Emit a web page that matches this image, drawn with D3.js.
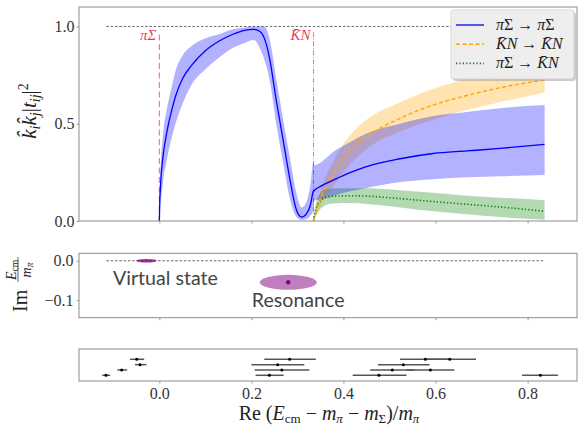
<!DOCTYPE html>
<html>
<head>
<meta charset="utf-8">
<script src="https://cdn.jsdelivr.net/npm/d3@7"></script>
<style>
  body { margin: 0; background: #fff; }
  svg { font-family: "Liberation Serif", "DejaVu Serif", serif; }
</style>
</head>
<body>
<div id="chart"></div>
<script>
// ---- data -------------------------------------------------------------
const thresholdX = [0, 0.335];
const thresholdName = ["πΣ", "K̄N"];
const xTicks = [0, 0.2, 0.4, 0.6, 0.8];
const topTicks = [0, 0.5, 1];
const midTicks = [0, -0.1];
const unitLine = [-0.115, 0.837];   // extent of the dashed |t|=1 / Im=0 line

// pi Sigma -> pi Sigma
const ppX  = [0, 0.001, 0.002, 0.004, 0.007, 0.01, 0.015, 0.02, 0.028, 0.035, 0.05, 0.07, 0.1, 0.13, 0.16, 0.185, 0.205, 0.218, 0.228, 0.24, 0.254, 0.269, 0.284, 0.298, 0.309, 0.32, 0.329, 0.334,
              0.337, 0.35, 0.378, 0.41, 0.45, 0.523, 0.595, 0.668, 0.74, 0.837];
const ppY  = [0, 0.11, 0.16, 0.24, 0.31, 0.37, 0.44, 0.5, 0.58, 0.64, 0.73, 0.8, 0.875, 0.925, 0.96, 0.98, 0.985, 0.975, 0.94, 0.83, 0.62, 0.416, 0.21, 0.055, 0.02, 0.038, 0.09, 0.15,
              0.158, 0.178, 0.21, 0.245, 0.28, 0.32, 0.347, 0.36, 0.373, 0.394];
const ppLo = [0, 0.05, 0.08, 0.12, 0.18, 0.24, 0.3, 0.36, 0.44, 0.5, 0.6, 0.7, 0.78, 0.84, 0.89, 0.915, 0.93, 0.89, 0.83, 0.72, 0.5, 0.3, 0.11, 0.02, 0.005, 0.01, 0.03, 0.05,
              0.105, 0.11, 0.13, 0.15, 0.17, 0.2, 0.215, 0.225, 0.23, 0.236];
const ppHi = [0, 0.17, 0.24, 0.34, 0.42, 0.49, 0.56, 0.62, 0.7, 0.77, 0.85, 0.9, 0.94, 0.96, 0.985, 0.995, 1.0, 1.0, 1.0, 0.93, 0.73, 0.52, 0.32, 0.14, 0.07, 0.1, 0.2, 0.3,
              0.287, 0.3, 0.356, 0.4, 0.45, 0.5, 0.54, 0.56, 0.58, 0.596];

// Kbar N -> Kbar N  and  pi Sigma -> Kbar N
const knX  = [0.335, 0.34, 0.349, 0.36, 0.378, 0.414, 0.45, 0.523, 0.595, 0.668, 0.74, 0.837];
const kkY  = [0, 0.04, 0.107, 0.17, 0.244, 0.364, 0.433, 0.528, 0.596, 0.645, 0.685, 0.725];
const kkLo = [0, 0.02, 0.07, 0.12, 0.18, 0.29, 0.37, 0.46, 0.52, 0.57, 0.61, 0.66];
const kkHi = [0, 0.06, 0.14, 0.22, 0.31, 0.44, 0.52, 0.61, 0.68, 0.73, 0.77, 0.8];
const pkY  = [0, 0.06, 0.1, 0.12, 0.127, 0.13, 0.128, 0.115, 0.1, 0.086, 0.072, 0.05];
const pkLo = [0, 0.03, 0.06, 0.08, 0.09, 0.092, 0.088, 0.07, 0.05, 0.035, 0.02, 0.007];
const pkHi = [0, 0.09, 0.14, 0.16, 0.167, 0.168, 0.168, 0.158, 0.145, 0.13, 0.12, 0.107];

// poles in the complex plane
const stateName  = ["Virtual state", "Resonance"];
const stateRe    = [-0.028, 0.28];
const stateIm    = [0, -0.0549];
const stateReErr = [0.022, 0.062];
const stateImErr = [0.0045, 0.019];
const labelRe    = [-0.1007, 0.2009];
const labelIm    = [-0.0606, -0.1165];

// pole positions from the individual fits
const poleRe  = [-0.049, -0.042, -0.082, -0.116, 0.283, 0.257, 0.266, 0.239, 0.578, 0.631, 0.530, 0.506, 0.589, 0.477, 0.828];
const poleLo  = [-0.064, -0.053, -0.091, -0.124, 0.228, 0.200, 0.207, 0.209, 0.523, 0.576, 0.475, 0.458, 0.537, 0.420, 0.788];
const poleHi  = [-0.033, -0.028, -0.070, -0.107, 0.340, 0.315, 0.326, 0.270, 0.633, 0.688, 0.587, 0.554, 0.641, 0.537, 0.866];
const poleRow = [3, 2, 1, 0, 3, 2, 1, 0, 3, 3, 2, 1, 1, 0, 0];

// ---- layout -----------------------------------------------------------
const W = 578, H = 425;
const L = 79, R = 577;
const panels = {
  top: { y0: 7, y1: 221 },
  mid: { y0: 253.3, y1: 317.7 },
  bot: { y0: 349, y1: 381 }
};
const spine = "#8c8c8c", tickText = "#333";

const svg = d3.select("#chart").append("svg")
  .attr("width", W).attr("height", H);

const x = d3.scaleLinear().domain([-0.1746, 0.9074]).range([L, R]);
const yTop = d3.scaleLinear().domain([0, 1.1]).range([panels.top.y1, panels.top.y0]);
const yMid = d3.scaleLinear().domain([-0.145, 0.019]).range([panels.mid.y1, panels.mid.y0]);
const yBot = d3.scaleLinear().domain([-1.07, 4.93]).range([panels.bot.y1, panels.bot.y0]);

// clip paths
const defs = svg.append("defs");
Object.entries(panels).forEach(([k, p]) => {
  defs.append("clipPath").attr("id", "clip-" + k)
    .append("rect").attr("x", L).attr("y", p.y0).attr("width", R - L).attr("height", p.y1 - p.y0);
});

function styleAxis(g) {
  g.select(".domain").remove();
  g.selectAll(".tick line").attr("stroke", spine).attr("stroke-width", 0.9);
  g.selectAll(".tick text").attr("fill", tickText).attr("font-size", 16)
    .attr("font-family", "Liberation Serif, serif");
}

function xAxis(p, labels) {
  svg.append("g")
    .attr("transform", `translate(0,${p.y1})`)
    .call(d3.axisBottom(x).tickValues(xTicks).tickSize(2.5).tickPadding(3.9)
      .tickFormat(labels ? d3.format(".1f") : ""))
    .call(styleAxis);
}

function frame(p) {
  svg.append("rect")
    .attr("x", L).attr("y", p.y0).attr("width", R - L).attr("height", p.y1 - p.y0)
    .attr("fill", "none").attr("stroke", spine).attr("stroke-width", 1);
}

// ---- top panel: |t|^2 -------------------------------------------------
const topG = svg.append("g").attr("clip-path", "url(#clip-top)");

topG.append("line")
  .attr("x1", x(unitLine[0])).attr("x2", x(unitLine[1]))
  .attr("y1", yTop(1)).attr("y2", yTop(1))
  .attr("stroke", "#444").attr("stroke-width", 0.8).attr("stroke-dasharray", "2.5,1.8");

// thresholds
topG.append("line")
  .attr("x1", x(thresholdX[0])).attr("x2", x(thresholdX[0]))
  .attr("y1", yTop(0)).attr("y2", yTop(0.97))
  .attr("stroke", "crimson").attr("stroke-opacity", 0.55).attr("stroke-width", 1.2)
  .attr("stroke-dasharray", "6,3.5");
topG.append("line")
  .attr("x1", x(thresholdX[1])).attr("x2", x(thresholdX[1]))
  .attr("y1", yTop(0)).attr("y2", yTop(0.97))
  .attr("stroke", "crimson").attr("stroke-opacity", 0.75).attr("stroke-width", 0.8)
  .attr("stroke-dasharray", "5,1.6,1,1.6");
svg.selectAll("text.thr")
  .data(thresholdX)
  .join("text")
  .attr("class", "thr")
  .attr("x", d => x(d) - 3)
  .attr("y", yTop(0.93))
  .attr("text-anchor", "end")
  .attr("font-size", 15)
  .attr("font-style", "italic")
  .attr("fill", "crimson")
  .attr("fill-opacity", 0.85)
  .text((d, i) => thresholdName[i]);

const series = [
  { X: knX, Y: pkY, lo: pkLo, hi: pkHi, color: "green", dash: "1.2,2.2", w: 1.6 },
  { X: knX, Y: kkY, lo: kkLo, hi: kkHi, color: "orange", dash: "4,2.5", w: 1.4 },
  { X: ppX, Y: ppY, lo: ppLo, hi: ppHi, color: "blue", dash: null, w: 1.3 }
];

series.forEach(s => {
  const idx = d3.range(s.X.length);
  const area = d3.area()
    .x(i => x(s.X[i])).y0(i => yTop(s.lo[i])).y1(i => yTop(s.hi[i]))
    .curve(d3.curveMonotoneX);
  topG.append("path").datum(idx)
    .attr("d", area).attr("fill", s.color).attr("fill-opacity", 0.3);
});
series.forEach(s => {
  const idx = d3.range(s.X.length);
  const line = d3.line()
    .x(i => x(s.X[i])).y(i => yTop(s.Y[i]))
    .curve(d3.curveMonotoneX);
  topG.append("path").datum(idx)
    .attr("d", line).attr("fill", "none")
    .attr("stroke", s.color).attr("stroke-width", s.w)
    .attr("stroke-dasharray", s.dash);
});

frame(panels.top);
xAxis(panels.top, false);
svg.append("g")
  .attr("transform", `translate(${L},0)`)
  .call(d3.axisLeft(yTop).tickValues(topTicks).tickSize(2.5).tickPadding(2)
    .tickFormat(d3.format(".1f")))
  .call(styleAxis);

// legend
const leg = svg.append("g").attr("transform", "translate(451,10)");
leg.append("rect").attr("x", 2).attr("y", 2).attr("width", 123).attr("height", 69)
  .attr("rx", 3).attr("fill", "#999").attr("fill-opacity", 0.5);
leg.append("rect").attr("width", 123).attr("height", 69)
  .attr("rx", 3).attr("fill", "#efefef").attr("fill-opacity", 0.95)
  .attr("stroke", "#cfcfcf").attr("stroke-width", 0.8);
const legText = [
  [{ t: "π" , i: true }, { t: "Σ" }, { t: " → " }, { t: "π", i: true }, { t: "Σ" }],
  [{ t: "K̄N", i: true }, { t: " → " }, { t: "K̄N", i: true }],
  [{ t: "π", i: true }, { t: "Σ" }, { t: " → " }, { t: "K̄N", i: true }]
];
const legSeries = [series[2], series[1], series[0]];
legSeries.forEach((s, k) => {
  const yy = 15 + k * 19.2;
  leg.append("line").attr("x1", 5).attr("x2", 33).attr("y1", yy).attr("y2", yy)
    .attr("stroke", s.color).attr("stroke-width", s.w).attr("stroke-dasharray", s.dash);
  const t = leg.append("text").attr("x", 45).attr("y", yy + 5)
    .attr("font-size", 16).attr("fill", "#222");
  legText[k].forEach(p => t.append("tspan").attr("font-style", p.i ? "italic" : null).text(p.t));
});

// y label top
const yl = svg.append("text")
  .attr("transform", "translate(36,111) rotate(-90)")
  .attr("text-anchor", "middle").attr("font-size", 21).attr("fill", "#222");
yl.append("tspan").attr("font-style", "italic").text("k̂");
yl.append("tspan").attr("font-style", "italic").attr("font-size", 14).attr("dy", 4).text("i");
yl.append("tspan").attr("font-style", "italic").attr("dy", -4).text("k̂");
yl.append("tspan").attr("font-style", "italic").attr("font-size", 14).attr("dy", 4).text("j");
yl.append("tspan").attr("dy", -4).text("|");
yl.append("tspan").attr("font-style", "italic").text("t");
yl.append("tspan").attr("font-style", "italic").attr("font-size", 14).attr("dy", 4).text("ij");
yl.append("tspan").attr("dy", -4).text("|");
yl.append("tspan").attr("font-size", 14).attr("dy", -8).text("2");

// ---- middle panel: poles ---------------------------------------------
const midG = svg.append("g").attr("clip-path", "url(#clip-mid)");
midG.append("line")
  .attr("x1", x(unitLine[0])).attr("x2", x(unitLine[1]))
  .attr("y1", yMid(0)).attr("y2", yMid(0))
  .attr("stroke", "#444").attr("stroke-width", 0.8).attr("stroke-dasharray", "2.5,1.8");

midG.selectAll("ellipse")
  .data(stateRe)
  .join("ellipse")
  .attr("cx", d => x(d))
  .attr("cy", (d, i) => yMid(stateIm[i]))
  .attr("rx", (d, i) => x(d + stateReErr[i]) - x(d))
  .attr("ry", (d, i) => yMid(stateIm[i] - stateImErr[i]) - yMid(stateIm[i]))
  .attr("fill", "purple")
  .attr("fill-opacity", (d, i) => i === 0 ? 0.8 : 0.5);
midG.selectAll("circle")
  .data(stateRe)
  .join("circle")
  .attr("cx", d => x(d))
  .attr("cy", (d, i) => yMid(stateIm[i]))
  .attr("r", (d, i) => i === 0 ? 0 : 2.2)
  .attr("fill", "purple");
svg.selectAll("text.state")
  .data(stateName)
  .join("text")
  .attr("class", "state")
  .attr("x", (d, i) => x(labelRe[i]))
  .attr("y", (d, i) => yMid(labelIm[i]))
  .style("font-family", "Lato, 'Open Sans', sans-serif")
  .attr("font-size", 19.6)
  .attr("fill", "#444")
  .text(d => d);

frame(panels.mid);
xAxis(panels.mid, false);
svg.append("g")
  .attr("transform", `translate(${L},0)`)
  .call(d3.axisLeft(yMid).tickValues(midTicks).tickSize(2.5).tickPadding(3)
    .tickFormat(d3.format(".1f")))
  .call(styleAxis);

// y label middle: Im E_cm / m_pi
const ml = svg.append("g").attr("transform", "translate(27,312) rotate(-90)").attr("fill", "#222");
ml.append("text").attr("x", 0).attr("y", 0).attr("font-size", 20).text("Im");
const num = ml.append("text").attr("x", 42).attr("y", -11.5).attr("text-anchor", "middle").attr("font-size", 14);
num.append("tspan").attr("font-style", "italic").text("E");
num.append("tspan").attr("font-size", 9.5).attr("dy", 2).text("cm");
ml.append("line").attr("x1", 30).attr("x2", 55).attr("y1", -9).attr("y2", -9)
  .attr("stroke", "#222").attr("stroke-width", 0.7);
const den = ml.append("text").attr("x", 42).attr("y", 3.5).attr("text-anchor", "middle").attr("font-size", 14);
den.append("tspan").attr("font-style", "italic").text("m");
den.append("tspan").attr("font-size", 9.5).attr("font-style", "italic").attr("dy", 2).text("π");

// ---- bottom panel: pole error bars ------------------------------------
const botG = svg.append("g").attr("clip-path", "url(#clip-bot)");
botG.selectAll("line.bar")
  .data(poleRe)
  .join("line")
  .attr("class", "bar")
  .attr("x1", (d, i) => x(poleLo[i]))
  .attr("x2", (d, i) => x(poleHi[i]))
  .attr("y1", (d, i) => yBot(poleRow[i]))
  .attr("y2", (d, i) => yBot(poleRow[i]))
  .attr("stroke", "#555").attr("stroke-width", 1.5);
botG.selectAll("circle")
  .data(poleRe)
  .join("circle")
  .attr("cx", d => x(d))
  .attr("cy", (d, i) => yBot(poleRow[i]))
  .attr("r", 1.5)
  .attr("fill", "#000");

frame(panels.bot);
xAxis(panels.bot, true);

// x label
const xl = svg.append("text")
  .attr("x", 329).attr("y", 420)
  .attr("text-anchor", "middle").attr("font-size", 20).attr("fill", "#222");
xl.append("tspan").text("Re (");
xl.append("tspan").attr("font-style", "italic").text("E");
xl.append("tspan").attr("font-size", 13).attr("dy", 3).text("cm");
xl.append("tspan").attr("dy", -3).text(" − ");
xl.append("tspan").attr("font-style", "italic").text("m");
xl.append("tspan").attr("font-size", 13).attr("font-style", "italic").attr("dy", 3).text("π");
xl.append("tspan").attr("dy", -3).text(" − ");
xl.append("tspan").attr("font-style", "italic").text("m");
xl.append("tspan").attr("font-size", 13).attr("dy", 3).text("Σ");
xl.append("tspan").attr("dy", -3).text(")/");
xl.append("tspan").attr("font-style", "italic").text("m");
xl.append("tspan").attr("font-size", 13).attr("font-style", "italic").attr("dy", 3).text("π");
</script>
</body>
</html>
